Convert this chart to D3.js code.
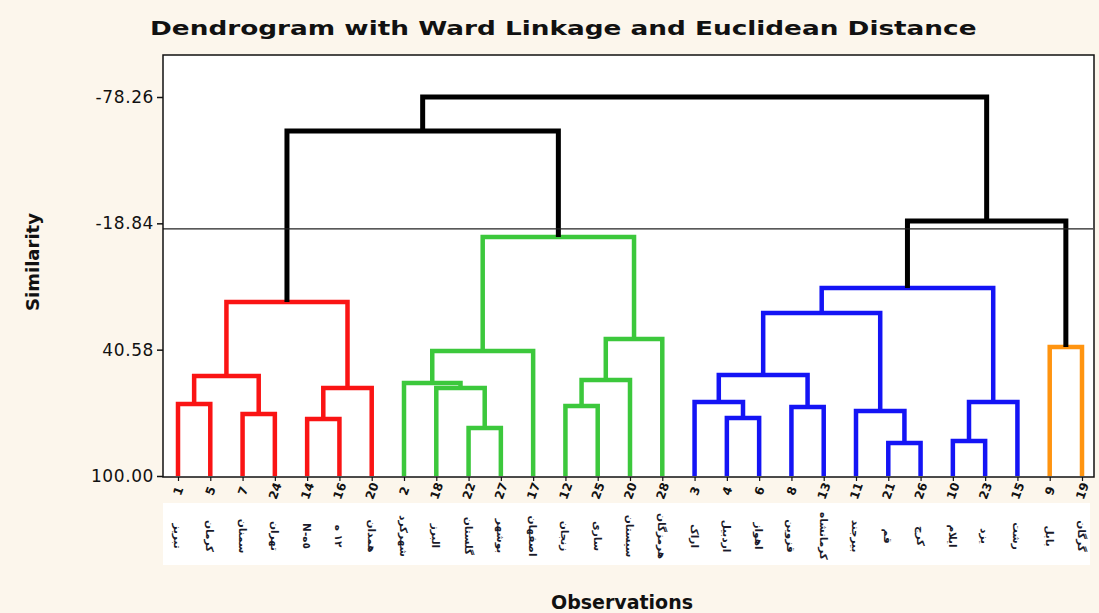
<!DOCTYPE html>
<html>
<head>
<meta charset="utf-8">
<script src="https://cdn.jsdelivr.net/npm/d3@7/dist/d3.min.js"></script>
<style>
  html, body { margin: 0; padding: 0; background: #fcf6ec; }
  svg { display: block; }
</style>
</head>
<body>
<svg id="chart" width="1099" height="613"></svg>
<script>
// ---- data ----
const leafNumbers = ["1","5","7","24","14","16","20","2","18","22","27","17","12","25","20","28","3","4","6","8","13","11","21","26","10","23","15","9","19"];
const leafNames = ["تبریز","کرمان","سمنان","تهران","N-٥ه","١٢ ه","همدان","شهرکرد","البرز","گلستان","بوشهر","اصفهان","زنجان","ساری","سیستان","هرمزگان","اراک","اردبیل","اهواز","قزوین","کرمانشاه","بیرجند","قم","کرج","ایلام","یزد","رشت","بابل","گرگان"];
// merges: node index 29+k joins mergeLeft[k] and mergeRight[k] at similarity mergeHeight[k]
const mergeLeft   = [0, 2, 29, 4, 32, 31, 9, 8, 7, 37, 12, 39, 40, 38, 34, 17, 16, 19, 45, 22, 21, 47, 24, 51, 50, 27, 53, 43];
const mergeRight  = [1, 3, 30, 5, 6, 33, 10, 35, 36, 11, 13, 14, 15, 41, 42, 18, 44, 20, 46, 23, 48, 49, 25, 26, 52, 28, 54, 55];
const mergeHeight = [66.1, 70.8, 53.0, 73.2, 58.6, 18.2, 77.4, 58.6, 56.3, 41.2, 67.1, 54.8, 35.6, -12.4, -62.3, 72.7, 65.2, 67.5, 52.5, 84.5, 69.4, 23.3, 83.5, 65.2, 11.6, 39.3, -19.9, -78.26];
const yTicks = [-78.26, -18.84, 40.58, 100.00];
const cutLevel = -16.2;
const clusterColors = ["#fa1414", "#3cc83c", "#1414f5", "#ff9410"];
const titleText = "Dendrogram with Ward Linkage and Euclidean Distance";

// ---- layout ----
const svg = d3.select("#chart");
const frame = {left: 163, top: 55, right: 1094, bottom: 477};

const nLeaves = leafNumbers.length;
const x = d3.scalePoint().domain(d3.range(nLeaves)).range([178, 1082]);
const y = d3.scaleLinear().domain([-78.26, 100]).range([97, 476]);

// white plot area
svg.append("rect").attr("x", frame.left).attr("y", frame.top)
  .attr("width", frame.right - frame.left).attr("height", frame.bottom - frame.top)
  .attr("fill", "#ffffff");
// white label area
svg.append("rect").attr("x", frame.left).attr("y", 503)
  .attr("width", 1090 - frame.left).attr("height", 62).attr("fill", "#ffffff");

// node positions
const nodeX = [], nodeH = [];
for (let i = 0; i < nLeaves; i++) { nodeX[i] = x(i); nodeH[i] = 100; }
mergeLeft.forEach((l, k) => {
  const id = nLeaves + k;
  nodeX[id] = (nodeX[l] + nodeX[mergeRight[k]]) / 2;
  nodeH[id] = mergeHeight[k];
});
const rootId = nLeaves + mergeLeft.length - 1;

// cluster assignment
const nodeColor = {};
let clusterIdx = 0;
function paint(id, color) {
  nodeColor[id] = color;
  if (id >= nLeaves) { const k = id - nLeaves; paint(mergeLeft[k], color); paint(mergeRight[k], color); }
}
function assign(id) {
  if (nodeH[id] > cutLevel) { paint(id, clusterColors[clusterIdx++]); return; }
  nodeColor[id] = "#000000";
  const k = id - nLeaves;
  assign(mergeLeft[k]); assign(mergeRight[k]);
}
assign(rootId);

// links
const g = svg.append("g");
const links = mergeLeft.map((l, k) => ({id: nLeaves + k, a: l, b: mergeRight[k]}));
links.sort((p, q) => (nodeColor[p.id] === "#000000") - (nodeColor[q.id] === "#000000"));
g.selectAll("path.link").data(links).join("path")
  .attr("class", "link")
  .attr("fill", "none")
  .attr("stroke", d => nodeColor[d.id])
  .attr("stroke-width", d => nodeColor[d.id] === "#000000" ? 5 : 4.5)
  .attr("stroke-linejoin", "miter")
  .attr("d", d => `M${nodeX[d.a]},${y(nodeH[d.a])}V${y(nodeH[d.id])}H${nodeX[d.b]}V${y(nodeH[d.b])}`);

// cut line
svg.append("line").attr("x1", frame.left).attr("x2", 1093)
  .attr("y1", y(cutLevel)).attr("y2", y(cutLevel))
  .attr("stroke", "#222").attr("stroke-width", 1.3);

// frame
svg.append("rect").attr("x", frame.left).attr("y", frame.top)
  .attr("width", frame.right - frame.left).attr("height", frame.bottom - frame.top)
  .attr("fill", "none").attr("stroke", "#111").attr("stroke-width", 1.5);

// y axis
const yAxis = d3.axisLeft(y).tickValues(yTicks).tickFormat(v => v.toFixed(2)).tickSize(6).tickPadding(3);
const ya = svg.append("g").attr("transform", `translate(${frame.left},0)`).call(yAxis);
ya.select(".domain").remove();
ya.selectAll(".tick line").attr("stroke", "#111").attr("stroke-width", 1.5);
ya.selectAll(".tick text").attr("font-family", "DejaVu Sans").attr("font-size", 17)
  .attr("fill", "#111").attr("letter-spacing", "0.6px");

// x axis
const xAxis = d3.axisBottom(x).tickFormat(i => leafNumbers[i]).tickSize(4).tickPadding(4);
const xa = svg.append("g").attr("transform", `translate(0,${frame.bottom})`).call(xAxis);
xa.select(".domain").remove();
xa.selectAll(".tick line").attr("stroke", "#111").attr("stroke-width", 1.2);
xa.selectAll(".tick text")
  .attr("font-family", "DejaVu Sans").attr("font-weight", "bold").attr("font-size", 12)
  .attr("fill", "#111")
  .attr("text-anchor", "middle").attr("dy", null).attr("y", 0)
  .attr("transform", "translate(0,14) rotate(-70)")
  .attr("dominant-baseline", "central");

// persian names
svg.append("g").selectAll("text").data(leafNames).join("text")
  .attr("transform", (d, i) => `translate(${x(i)},536) rotate(90)`)
  .attr("text-anchor", "middle")
  .attr("dominant-baseline", "central")
  .attr("font-family", "DejaVu Sans")
  .attr("font-weight", "bold")
  .attr("font-size", 10.5)
  .attr("fill", "#1a1a2a")
  .text(d => d);

// title (stretched horizontally to the reference width)
const title = svg.append("text")
  .attr("font-family", "DejaVu Sans").attr("font-weight", "bold").attr("font-size", 20)
  .attr("fill", "#111").text(titleText);
const tw = title.node().getComputedTextLength();
title.attr("transform", `translate(150,35) scale(${827 / tw},1)`);

// axis titles
svg.append("text").attr("transform", "translate(32,262) rotate(-90)")
  .attr("text-anchor", "middle").attr("dominant-baseline", "central")
  .attr("font-family", "DejaVu Sans").attr("font-weight", "bold").attr("font-size", 18)
  .attr("fill", "#111").text("Similarity");

svg.append("text").attr("x", 622).attr("y", 609)
  .attr("text-anchor", "middle")
  .attr("font-family", "DejaVu Sans").attr("font-weight", "bold").attr("font-size", 19)
  .attr("fill", "#111").text("Observations");
</script>
</body>
</html>
